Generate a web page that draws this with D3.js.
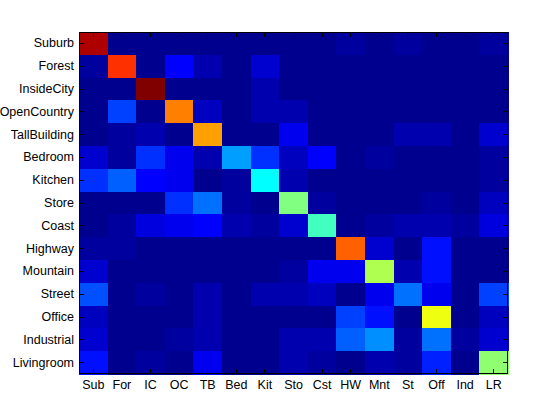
<!DOCTYPE html>
<html>
<head>
<meta charset="utf-8">
<script src="https://cdn.jsdelivr.net/npm/d3@7"></script>
<style>
  body { margin: 0; background: #fff; }
  .chart text { font-family: "Liberation Sans", Arial, sans-serif; font-size: 12.5px; fill: #000; }
</style>
</head>
<body>
<div class="chart"></div>
<script>
// DATA ************************************************************
// rows = true class, columns = predicted class (percent)
const rowLabels = ["Suburb", "Forest", "InsideCity", "OpenCountry", "TallBuilding", "Bedroom", "Kitchen",
  "Store", "Coast", "Highway", "Mountain", "Street", "Office", "Industrial", "Livingroom"];
const colLabels = ["Sub", "For", "IC", "OC", "TB", "Bed", "Kit", "Sto", "Cst", "HW", "Mnt", "St", "Off", "Ind", "LR"];

const suburb       = [91, 0, 0, 0, 0, 0, 0, 0, 0, 2, 0, 2, 0, 0, 2];
const forest       = [2, 79, 0, 11, 4, 0, 7, 0, 0, 0, 0, 0, 0, 0, 0];
const insideCity   = [0, 0, 96, 0, 0, 0, 4, 0, 0, 0, 0, 0, 0, 0, 0];
const openCountry  = [0, 17, 0, 71, 5, 0, 4, 4, 0, 0, 0, 0, 0, 0, 0];
const tallBuilding = [0, 2, 4, 0, 68, 0, 0, 10, 0, 0, 0, 4, 4, 0, 7];
const bedroom      = [7, 2, 16, 10, 4, 26, 16, 5, 11, 0, 2, 0, 0, 0, 2];
const kitchen      = [16, 20, 11, 10, 0, 2, 35, 4, 0, 0, 0, 0, 0, 0, 2];
const store        = [0, 0, 0, 16, 22, 2, 0, 47, 2, 0, 0, 0, 2, 0, 5];
const coast        = [0, 2, 8, 10, 11, 4, 2, 7, 41, 0, 2, 4, 4, 2, 8];
const highway      = [2, 2, 0, 0, 0, 0, 0, 0, 0, 74, 7, 0, 13, 0, 0];
const mountain     = [7, 0, 0, 0, 0, 0, 0, 2, 10, 10, 52, 4, 13, 0, 0];
const street       = [19, 0, 2, 0, 4, 0, 4, 4, 5, 0, 10, 22, 10, 0, 17];
const office       = [5, 0, 0, 0, 4, 0, 0, 0, 0, 17, 13, 0, 58, 0, 5];
const industrial   = [7, 0, 0, 2, 4, 0, 0, 4, 4, 20, 25, 2, 22, 2, 7];
const livingroom   = [13, 0, 2, 0, 10, 0, 0, 4, 2, 0, 4, 2, 14, 0, 49];

const matrix = [suburb, forest, insideCity, openCountry, tallBuilding, bedroom, kitchen,
  store, coast, highway, mountain, street, office, industrial, livingroom];

// flatten into cells
const cells = [];
matrix.forEach((row, i) => row.forEach((v, j) => cells.push({ r: rowLabels[i], c: colLabels[j], v: v })));

// LAYOUT **********************************************************
const width = 560, height = 420;
const plotLeft = 79, plotRight = 508, plotTop = 32, plotBottom = 374;

const svg = d3.select(".chart").append("svg")
  .attr("width", width)
  .attr("height", height);

// jet colormap, 64 levels like matlab
function jet(j) { // j = 1..64
  let r, g, b;
  b = j <= 8 ? (j + 8) / 16 : j <= 23 ? 1 : j <= 39 ? (40 - j) / 16 : 0;
  g = j <= 8 ? 0 : j <= 24 ? (j - 8) / 16 : j <= 39 ? 1 : j <= 55 ? (56 - j) / 16 : 0;
  r = j <= 24 ? 0 : j <= 40 ? (j - 24) / 16 : j <= 55 ? 1 : (72 - j) / 16;
  return d3.rgb(r * 255, g * 255, b * 255).formatHex();
}
const jetColors = d3.range(1, 65).map(jet);

const color = d3.scaleQuantize()
  .domain([d3.min(cells, d => d.v), d3.max(cells, d => d.v)])
  .range(jetColors);

const x = d3.scaleBand().domain(colLabels).range([plotLeft, plotRight]).padding(0);
const y = d3.scaleBand().domain(rowLabels).range([plotTop, plotBottom]).padding(0);

// CELLS ***********************************************************
svg.append("g")
  .selectAll("rect")
  .data(cells)
  .enter()
  .append("rect")
  .attr("x", d => x(d.c))
  .attr("y", d => y(d.r))
  .attr("width", x.bandwidth() + 0.5) // small overlap so no seams
  .attr("height", y.bandwidth() + 0.5)
  .attr("fill", d => color(d.v))
  .attr("shape-rendering", "crispEdges");

// AXES ************************************************************
// ticks point inward like matlab
const tick = 5;

const yAxis = svg.append("g")
  .attr("transform", `translate(${plotLeft},0)`)
  .call(d3.axisLeft(y).tickSize(-tick).tickPadding(5));
const xAxis = svg.append("g")
  .attr("transform", `translate(0,${plotBottom})`)
  .call(d3.axisBottom(x).tickSize(-tick).tickPadding(6));
const yAxisR = svg.append("g")
  .attr("transform", `translate(${plotRight},0)`)
  .call(d3.axisRight(y).tickSize(-tick).tickFormat(""));
const xAxisT = svg.append("g")
  .attr("transform", `translate(0,${plotTop})`)
  .call(d3.axisTop(x).tickSize(-tick).tickFormat(""));

[yAxis, xAxis, yAxisR, xAxisT].forEach(a => {
  a.select(".domain").remove();
  a.selectAll("line").attr("stroke", "#000").attr("shape-rendering", "crispEdges");
  a.selectAll("text").attr("font-size", null).attr("font-family", null);
});

// box round the plot
svg.append("rect")
  .attr("x", plotLeft + 0.5)
  .attr("y", plotTop + 0.5)
  .attr("width", plotRight - plotLeft - 1)
  .attr("height", plotBottom - plotTop - 1)
  .attr("fill", "none")
  .attr("stroke", "#000")
  .attr("stroke-width", 1)
  .attr("shape-rendering", "crispEdges");
</script>
</body>
</html>
